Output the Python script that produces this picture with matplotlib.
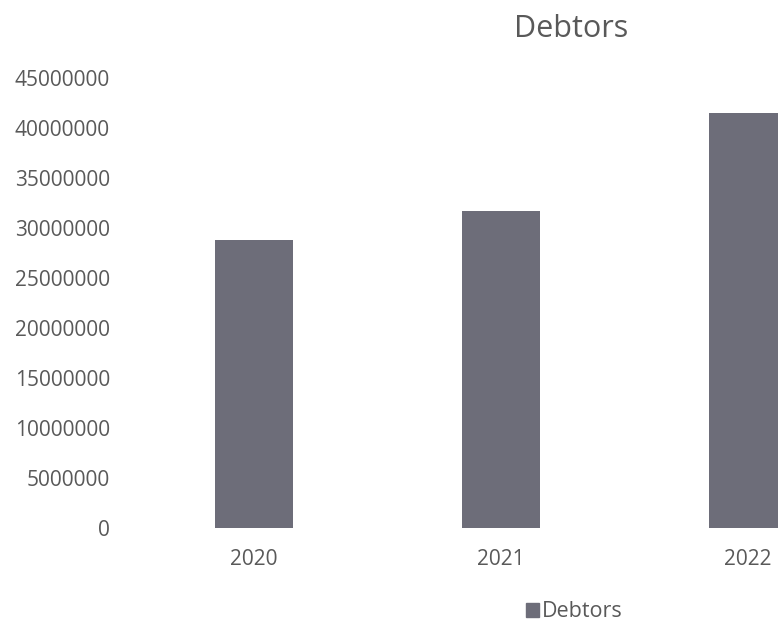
import matplotlib
matplotlib.use("Agg")
import matplotlib.pyplot as plt
from matplotlib.patches import Patch

years = ["2020", "2021", "2022"]
debtors = [28800000, 31700000, 41500000]
y_ticks = [0, 5000000, 10000000, 15000000, 20000000, 25000000,
           30000000, 35000000, 40000000, 45000000]

text_color = "#595959"
bar_color = "#6d6d79"
plt.rcParams["font.family"] = ["Open Sans", "DejaVu Sans"]

fig = plt.figure(figsize=(7.78, 6.25), dpi=100)
ax = fig.add_axes([0.168, 0.155, 0.952, 0.72])

x = list(range(len(years)))
ax.bar(x, debtors, width=0.315, color=bar_color)

ax.set_xlim(-0.5, len(years) - 0.5)
ax.set_ylim(0, 45000000)
ax.set_yticks(y_ticks)
ax.set_yticklabels([str(v) for v in y_ticks])
ax.set_xticks(x)
ax.set_xticklabels(years)

for side in ax.spines.values():
    side.set_visible(False)
ax.tick_params(axis="both", length=0, labelsize=15, colors=text_color)
ax.tick_params(axis="y", pad=15)
ax.tick_params(axis="x", pad=15)

fig.text(0.734, 0.953, "Debtors", ha="center", va="center",
         fontsize=22, color=text_color)
fig.legend(handles=[Patch(color=bar_color, label="Debtors")],
           loc="center", bbox_to_anchor=(0.738, 0.021), frameon=False,
           fontsize=15.5, labelcolor=text_color, handlelength=0.6,
           handleheight=0.6, handletextpad=0.15)

fig.savefig("out.png", dpi=100)
